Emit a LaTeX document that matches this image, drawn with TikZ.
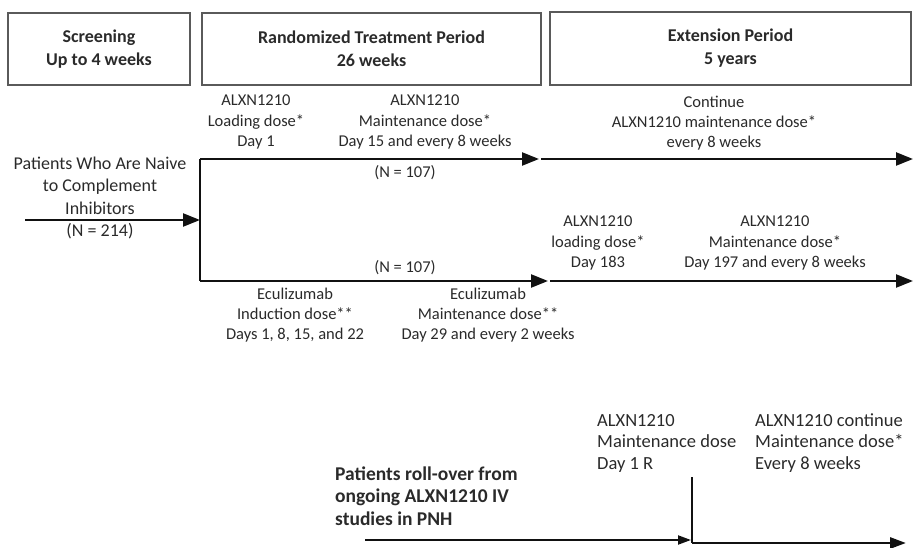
\documentclass[tikz,border=0pt]{standalone}
\usepackage{fontspec}
\setmainfont{Carlito}
\usetikzlibrary{arrows.meta}
\definecolor{txt}{HTML}{2A2A2A}
\definecolor{boxc}{HTML}{5A5A5A}
\definecolor{linec}{HTML}{111111}
\tikzset{
  hdr/.style={draw=boxc, line width=1.8pt, font=\fontsize{18}{23}\selectfont\bfseries, text=txt, align=center, inner sep=0pt},
  lbl/.style={font=\fontsize{16.5}{20.3}\selectfont, text=txt, align=center, inner sep=0pt},
  intxt/.style={font=\fontsize{18}{22.6}\selectfont, text=txt, align=center, inner sep=0pt},
  btxt/.style={font=\fontsize{18.5}{21.5}\selectfont, text=txt, align=left, inner sep=0pt, anchor=west},
  bbold/.style={font=\fontsize{19.5}{22.5}\selectfont\bfseries, text=txt, align=left, inner sep=0pt, anchor=west},
  flow/.style={draw=linec, line width=2.4pt},
  arr/.style={flow, -{Triangle[length=17pt,width=13pt]}},
  sarr/.style={draw=linec, line width=2pt, -{Triangle[length=13pt,width=9pt]}},
  barr/.style={draw=linec, line width=2.8pt, -{Triangle[length=16pt,width=11pt]}}
}
\begin{document}
\begin{tikzpicture}[x=1pt,y=-1pt]
\useasboundingbox (0,0) rectangle (914,548);
% header boxes
\node[hdr, minimum width=182pt, minimum height=72pt] (b1) at (99,49) {Screening\\Up to 4 weeks};
\node[hdr, minimum width=339pt, minimum height=72pt] (b2) at (371.5,49) {Randomized Treatment Period\\26 weeks};
\node[hdr, minimum width=361pt, minimum height=73pt] (b3) at (730.5,48.5) {Extension Period\\5 years};
% flow coordinates
\coordinate (in0) at (25,220);
\coordinate (split) at (200,220);
\coordinate (up0) at (200,159);
\coordinate (lo0) at (200,281);
\coordinate (up1) at (539,159);
\coordinate (up2) at (541,159);
\coordinate (upE) at (913,159);
\coordinate (lo1) at (548,281);
\coordinate (lo2) at (550,281);
\coordinate (loE) at (913,281);
% input text
\node[intxt] (pin) at (100,198) {Patients Who Are Naive\\to Complement\\Inhibitors\\(N = 214)};
\draw[arr] (in0) -- (split);
\draw[flow] (up0) -- (lo0);
\draw[arr] (up0) -- (up1);
\draw[arr] (up2) -- (upE);
\draw[arr] (lo0) -- (lo1);
\draw[arr] (lo2) -- (loE);
% labels
\node[lbl] (l1) at (256,122) {ALXN1210\\Loading dose*\\Day 1};
\node[lbl] (l2) at (425,122) {ALXN1210\\Maintenance dose*\\Day 15 and every 8 weeks};
\node[lbl] (l3) at (714,123) {Continue\\ALXN1210 maintenance dose*\\every 8 weeks};
\node[lbl] (n1) at (405,173) {(N = 107)};
\node[lbl] (n2) at (405,268) {(N = 107)};
\node[lbl] (l4) at (598,243) {ALXN1210\\loading dose*\\Day 183};
\node[lbl] (l5) at (775,243) {ALXN1210\\Maintenance dose*\\Day 197 and every 8 weeks};
\node[lbl] (e1) at (295,315) {Eculizumab\\Induction dose**\\Days 1, 8, 15, and 22};
\node[lbl] (e2) at (488,315) {Eculizumab\\Maintenance dose**\\Day 29 and every 2 weeks};
% bottom section
\node[btxt] (r1) at (597,443) {ALXN1210\\Maintenance dose\\Day 1 R};
\node[btxt] (r2) at (755,443) {ALXN1210 continue\\Maintenance dose*\\Every 8 weeks};
\node[bbold] (ro) at (335,496) {Patients roll-over from\\ongoing ALXN1210 IV\\studies in PNH};
\coordinate (s0) at (365,540);
\coordinate (v0) at (692,477);
\coordinate (v1) at (692,543);
\coordinate (s1) at (691,540);
\coordinate (sE) at (906,543);
\draw[sarr] (s0) -- (s1);
\draw[draw=linec, line width=2.2pt] (v0) -- (v1);
\draw[barr] (v1) -- (sE);
\end{tikzpicture}
\end{document}
